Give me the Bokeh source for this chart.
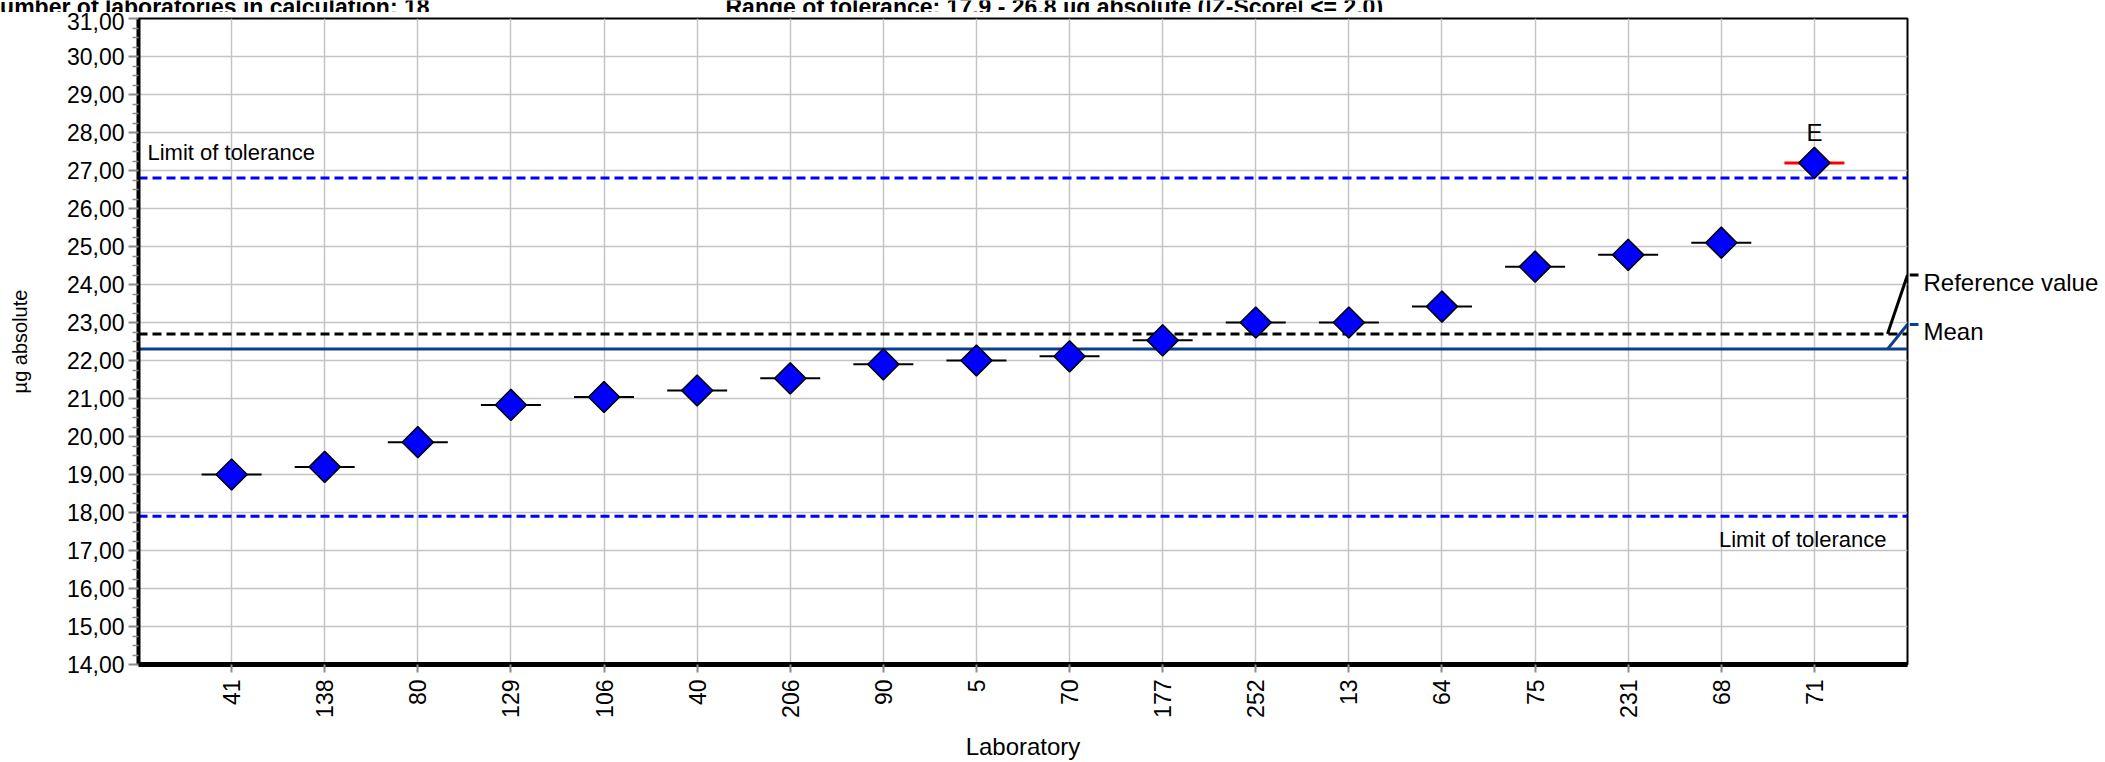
import math

from bokeh.core.properties import value
from bokeh.embed import file_html
from bokeh.layouts import column, row
from bokeh.models import ColumnDataSource, FixedTicker, Range1d, Span
from bokeh.plotting import figure
from bokeh.resources import INLINE

# ---- data -----------------------------------------------------------------
labs = ["41", "138", "80", "129", "106", "40", "206", "90", "5", "70",
        "177", "252", "13", "64", "75", "231", "68", "71"]
results = [19.00, 19.20, 19.85, 20.83, 21.04, 21.21, 21.53, 21.90, 22.00, 22.11,
           22.53, 23.00, 23.00, 23.42, 24.47, 24.78, 25.10, 27.20]
flags = ["", "", "", "", "", "", "", "", "", "",
         "", "", "", "", "", "", "", "E"]

reference_value = 22.70
mean_value = 22.30
tolerance_low = 17.9
tolerance_high = 26.8
n_labs = 18

y_ticks = list(range(14, 32))
y_tick_labels = [f"{v:.2f}".replace(".", ",") for v in y_ticks]

# ---- layout ---------------------------------------------------------------
W, H = 2105, 762
HEADER_H = 12
MAIN_W = 1909
SIDE_W = W - MAIN_W
BODY_H = H - HEADER_H
LEFT, TOP, BOTTOM = 138, 6, 98
FONT = "Liberation Sans"
MEAN_COLOR = "#0a3f8f"

x_lo, x_hi = 0, len(labs) + 1
y_lo, y_hi = 14, 31
frame_w = MAIN_W - LEFT - 2
frame_h = BODY_H - TOP - BOTTOM
px_x = (x_hi - x_lo) / frame_w   # data units per pixel (x)
px_y = (y_hi - y_lo) / frame_h   # data units per pixel (y)
y_range = Range1d(y_lo, y_hi)

xs = list(range(1, len(labs) + 1))
dash_colors = ["#ff0000" if f == "E" else "black" for f in flags]
dash_widths = [3 if f == "E" else 2 for f in flags]
src = ColumnDataSource(dict(x=xs, y=results, lab=labs, flag=flags,
                            dc=dash_colors, dw=dash_widths))

# ---- main chart -------------------------------------------------------------
p = figure(width=MAIN_W, height=BODY_H, output_backend="svg",
           toolbar_location=None, x_range=Range1d(x_lo, x_hi), y_range=y_range,
           min_border_left=LEFT, min_border_right=2,
           min_border_top=TOP, min_border_bottom=BOTTOM)
p.background_fill_color = "white"
p.border_fill_color = "white"
p.outline_line_color = "black"
p.outline_line_width = 2

minor = [t + q for t in y_ticks[:-1] for q in (0.25, 0.5, 0.75)]
p.yaxis.ticker = FixedTicker(ticks=y_ticks, minor_ticks=minor)
p.yaxis.major_label_overrides = {t: s for t, s in zip(y_ticks, y_tick_labels)}
p.xaxis.ticker = FixedTicker(ticks=xs)
p.xaxis.major_label_overrides = {x: l for x, l in zip(xs, labs)}
p.xaxis.major_label_orientation = math.pi / 2

for ax in (p.xaxis[0], p.yaxis[0]):
    ax.axis_line_color = "black"
    ax.major_tick_line_color = "#8c8c8c"
    ax.major_tick_line_width = 2
    ax.major_tick_in = 0
    ax.major_label_text_font = FONT
    ax.major_label_text_font_size = "23px"
    ax.major_label_text_color = "black"
    ax.axis_label_text_font = FONT
    ax.axis_label_text_font_style = "normal"
    ax.axis_label_text_color = "black"

p.yaxis.axis_line_width = 4
p.yaxis.major_tick_out = 10
p.yaxis.minor_tick_out = 6
p.yaxis.minor_tick_in = 0
p.yaxis.minor_tick_line_color = "#8c8c8c"
p.yaxis.minor_tick_line_width = 1.5
p.yaxis.major_label_standoff = 4
p.yaxis.axis_label = "µg absolute"
p.yaxis.axis_label_text_font_size = "20px"
p.yaxis.axis_label_standoff = 33

p.xaxis.axis_line_width = 5
p.xaxis.major_tick_out = 8
p.xaxis.minor_tick_line_color = None
p.xaxis.major_label_standoff = 7
p.xaxis.axis_label = "Laboratory"
p.xaxis.axis_label_text_font_size = "24px"
p.xaxis.axis_label_standoff = 12

p.xgrid.grid_line_color = "#c4c4c4"
p.xgrid.grid_line_width = 1.5
p.ygrid.grid_line_color = "#c4c4c4"
p.ygrid.grid_line_width = 1.5

for v, color, dash in ((tolerance_high, "#0000ff", "9 5"),
                       (tolerance_low, "#0000ff", "9 5"),
                       (reference_value, "black", "9 5"),
                       (mean_value, MEAN_COLOR, "solid")):
    p.add_layout(Span(location=v, dimension="width", line_color=color,
                      line_width=3, line_dash=dash, level="underlay"))

p.text(x=[x_lo + 9 * px_x, x_hi - 21 * px_x],
       y=[tolerance_high + 26 * px_y, tolerance_low - 23 * px_y],
       text=["Limit of tolerance", "Limit of tolerance"],
       text_align=["left", "right"], text_baseline="middle",
       text_font=value(FONT), text_font_size="22px", text_color="black")

# tags joining the reference / mean lines to their names on the right
legend_items = ((reference_value, reference_value + 1.55, "black", "Reference value"),
                (mean_value, mean_value + 0.65, MEAN_COLOR, "Mean"))
for level_v, tag_v, color, _ in legend_items:
    p.line([x_hi - 20 * px_x, x_hi], [level_v, tag_v],
           line_color=color, line_width=3)

p.scatter("x", "y", source=src, marker="dash", size=60,
          line_color="dc", line_width="dw")
p.scatter("x", "y", source=src, marker="square", angle=math.pi / 4, size=22,
          fill_color="#0000ff", line_color="black", line_width=1.5)
p.text("x", "y", text="flag", source=src, text_font=value(FONT),
       text_font_size="24px", text_color="black", text_align="center",
       text_baseline="alphabetic", y_offset=-30)

# ---- right-hand names for the reference / mean lines ------------------------
s = figure(width=SIDE_W, height=BODY_H, output_backend="svg",
           toolbar_location=None, x_range=Range1d(0, SIDE_W), y_range=y_range,
           x_axis_location=None, y_axis_location=None,
           min_border_left=0, min_border_right=0,
           min_border_top=TOP, min_border_bottom=BOTTOM)
s.grid.visible = False
s.outline_line_color = None
s.background_fill_color = "white"
s.border_fill_color = "white"
for _, tag_v, color, name in legend_items:
    s.line([0, 9], [tag_v, tag_v], line_color=color, line_width=3)
    s.text(x=[14], y=[tag_v - 7 * px_y], text=[name], text_font=value(FONT),
           text_font_size="24px", text_color="black", text_baseline="middle",
           text_align="left")

# ---- header line ------------------------------------------------------------
hd = figure(width=W, height=HEADER_H, output_backend="svg",
            toolbar_location=None, x_range=Range1d(0, W),
            y_range=Range1d(HEADER_H, 0), x_axis_location=None,
            y_axis_location=None, min_border=0)
hd.grid.visible = False
hd.outline_line_color = None
hd.background_fill_color = "white"
hd.border_fill_color = "white"
tol_txt = (f"Range of tolerance:  {tolerance_low:.1f} - {tolerance_high:.1f} "
           "µg absolute (|Z-Score| <= 2,0)").replace(".", ",")
hd.text(x=[-17, 725], y=[6, 6],
        text=[f"Number of laboratories in calculation:  {n_labs}", tol_txt],
        text_font=value(FONT), text_font_size="23px", text_font_style="bold",
        text_color="black", text_baseline="alphabetic", text_align="left")

layout = column(hd, row(p, s, spacing=0), spacing=0)
open("out.html", "w").write(file_html(layout, INLINE))
